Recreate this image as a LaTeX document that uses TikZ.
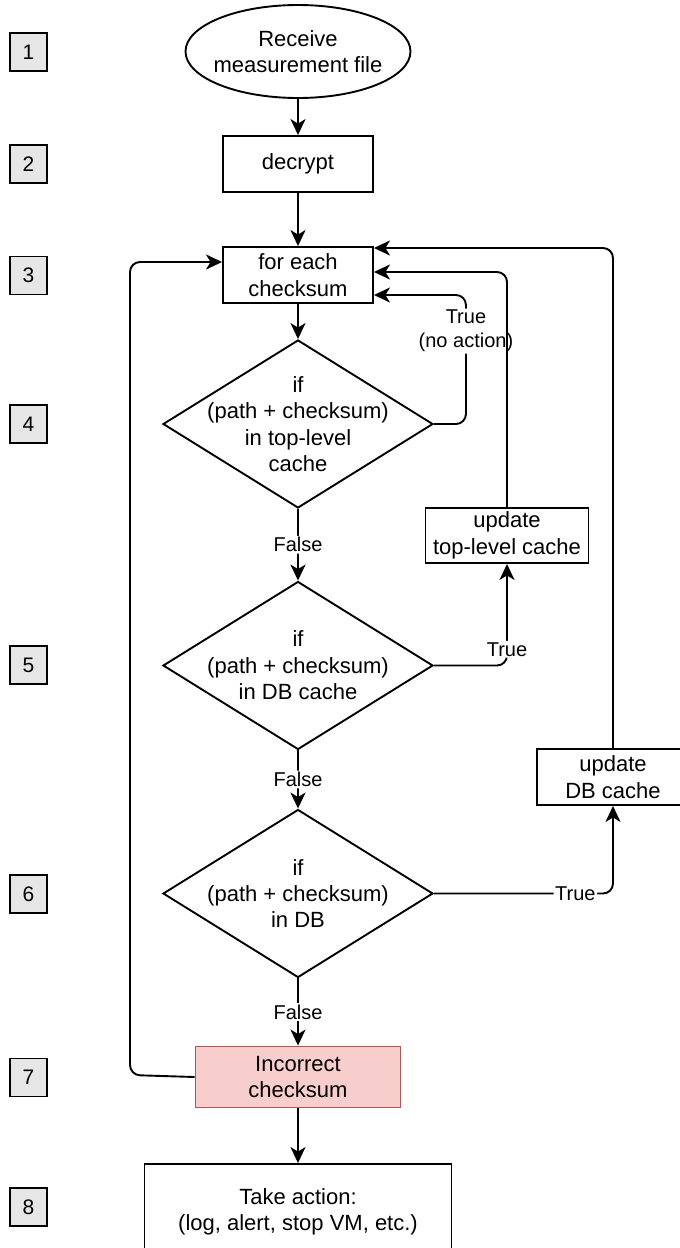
\documentclass[tikz,border=0pt]{standalone}
\usepackage{fontspec}
\setmainfont{Liberation Sans}
\usetikzlibrary{shapes.geometric,arrows.meta}
\definecolor{stepfill}{HTML}{E6E6E6}
\definecolor{errfill}{HTML}{F8CECC}
\definecolor{errdraw}{HTML}{B85450}

\begin{document}
\begin{tikzpicture}[x=1pt,y=-1pt,line width=1.9pt,
  every node/.style={font=\fontsize{22}{26.4}\selectfont,align=center,inner sep=0pt},
  stepnum/.style={draw,fill=stepfill,minimum width=37pt,minimum height=38pt,
    font=\fontsize{21}{25}\selectfont},
  procbox/.style={draw,fill=white,rectangle},
  decision/.style={draw,fill=white,diamond,minimum width=270pt,minimum height=168pt},
  flow/.style={-{Stealth[length=16pt,width=15pt,inset=4.5pt]},rounded corners=10pt},
  lbl/.style={fill=white,inner sep=1.5pt,font=\fontsize{20}{24}\selectfont}]

\useasboundingbox (0,0) rectangle (680,1248);

% step numbers on the left
\foreach \n/\y in {1/52,2/164,3/275.5,4/424,5/665,6/894,7/1077.5,8/1207}
  \node[stepnum] (s\n) at (28.5,\y) {\n};

% main column
\node[draw,ellipse,minimum width=225pt,minimum height=93pt,
  label={[align=center]center:Receive\\measurement file}] (start) at (298,51.5) {};
\node[procbox,minimum width=150pt,minimum height=56pt] (decrypt) at (298,164) {decrypt};
\node[procbox,minimum width=150pt,minimum height=56pt] (foreach) at (298,275) {for each\\checksum};
\node[decision,label={[align=center]center:if\\(path + checksum)\\in top-level\\cache}] (d1) at (298,424) {};
\node[decision,label={[align=center]center:if\\(path + checksum)\\in DB cache}] (d2) at (298,665.5) {};
\node[decision,label={[align=center]center:if\\(path + checksum)\\in DB}] (d3) at (298,893.5) {};
\node[procbox,fill=errfill,draw=errdraw,minimum width=205pt,minimum height=61pt] (bad) at (298,1077) {Incorrect\\checksum};
\node[procbox,minimum width=307pt,minimum height=96pt] (act) at (298,1212) {Take action:\\(log, alert, stop VM, etc.)};

% cache update boxes
\node[procbox,minimum width=163pt,minimum height=55pt] (tlc) at (507,535.5) {update\\top-level cache};
\node[procbox,minimum width=152pt,minimum height=56pt] (dbc) at (613,777) {update\\DB cache};

\coordinate (loopL) at (130,1075);

% straight flow
\draw[flow] (start) -- (decrypt);
\draw[flow] (decrypt) -- (foreach);
\draw[flow] (foreach) -- (d1);
\draw[flow] (d1) -- node[lbl]{False} (d2);
\draw[flow] (d2) -- node[lbl]{False} (d3);
\draw[flow] (d3) -- node[lbl]{False} (bad);
\draw[flow] (bad) -- (act);

% branches back to the loop head
\draw[flow] (d1.east) -- ++(32,0) |- node[lbl,pos=0.36]{True\\(no action)} ([yshift=-20pt]foreach.east);
\draw[flow] (d2.east) -| node[lbl,pos=0.58]{True} (tlc.south);
\draw[flow] (d3.east) -| node[lbl,pos=0.395]{True} (dbc.south);
\draw[flow] (tlc.north) |- ([yshift=3pt]foreach.east);
\draw[flow] (dbc.north) |- ([yshift=27pt]foreach.east);
\draw[flow] (bad.west) -- (loopL) |- ([yshift=13pt]foreach.west);
\end{tikzpicture}
\end{document}
